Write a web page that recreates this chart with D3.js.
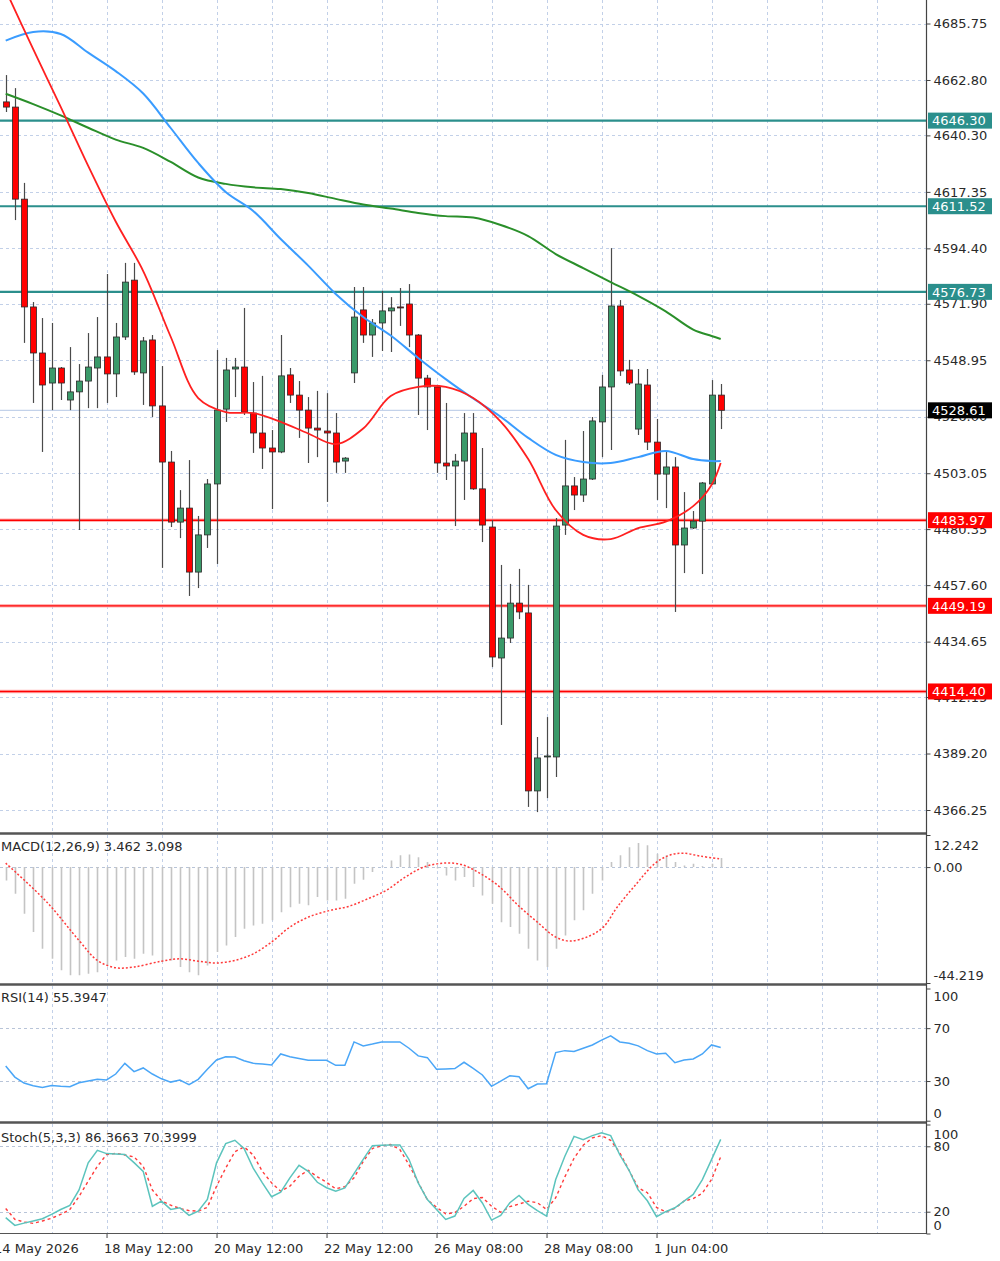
<!DOCTYPE html>
<html>
<head>
<meta charset="utf-8">
<script src="https://cdn.jsdelivr.net/npm/d3@7"></script>
<style>
  body { margin: 0; background: #fff; }
  svg { display: block; font-family: "DejaVu Sans", sans-serif; }
</style>
</head>
<body>
<div id="chart"></div>
<script>
var width = 1000, height = 1261;
var axisX = 926.5;

// 4h candles
var openP  = [4653.9,4651.8,4614.4,4570.6,4551.9,4539.7,4545.8,4532.8,4536.1,4540.5,4545.8,4550.3,4543.4,4558.4,4581.5,4543.8,4557.2,4530.4,4507.6,4483.2,
              4488.9,4462.9,4478.0,4498.7,4529.1,4545.4,4546.2,4527.5,4519.4,4513.3,4511.7,4543.0,4534.8,4528.7,4521.4,4520.2,4519.4,4508.0,4543.8,4569.4,
              4559.2,4564.1,4569.0,4570.6,4571.8,4559.2,4541.7,4538.1,4507.2,4506.0,4508.0,4519.4,4496.7,4481.2,4428.0,4436.1,4450.3,4446.3,4374.0,4387.8,
              4387.8,4482.0,4497.9,4494.2,4500.7,4523.9,4538.1,4571.0,4545.0,4521.0,4538.9,4515.7,4502.7,4505.6,4473.9,4480.8,4483.6,4498.7,4534.8];
var highP  = [4664.8,4659.5,4621.0,4572.6,4566.1,4564.1,4546.2,4554.3,4547.4,4560.0,4566.5,4584.0,4564.1,4588.5,4588.5,4558.4,4559.2,4546.6,4512.1,4496.2,
              4508.4,4485.7,4500.7,4553.1,4549.9,4549.9,4570.2,4540.1,4542.6,4520.6,4559.2,4545.8,4540.5,4534.0,4536.5,4535.6,4527.5,4509.6,4578.7,4578.7,
              4565.7,4577.1,4574.6,4578.3,4579.9,4559.6,4543.0,4538.5,4531.6,4510.9,4527.5,4527.5,4513.3,4484.0,4465.8,4458.1,4464.2,4457.7,4395.9,4404.0,
              4484.9,4516.6,4501.5,4520.2,4525.9,4543.0,4594.5,4573.4,4549.1,4545.4,4545.4,4525.1,4511.7,4509.6,4495.4,4487.7,4499.5,4540.9,4539.3];
var lowP   = [4649.8,4605.9,4556.0,4531.6,4511.7,4528.7,4532.8,4528.7,4480.0,4529.5,4529.5,4531.6,4534.0,4557.2,4543.0,4530.8,4525.9,4464.6,4481.2,4476.7,
              4453.2,4456.4,4472.7,4466.2,4523.9,4534.0,4526.7,4511.3,4504.8,4488.5,4511.2,4531.6,4517.4,4507.2,4509.6,4491.4,4503.2,4503.2,4539.7,4556.0,
              4550.3,4552.7,4552.3,4562.9,4554.3,4526.7,4520.6,4503.2,4500.3,4481.6,4492.2,4496.3,4475.1,4424.3,4400.8,4434.1,4443.8,4367.5,4365.4,4371.1,
              4379.7,4478.0,4488.1,4491.4,4500.3,4509.6,4512.5,4542.6,4538.9,4518.6,4512.5,4492.2,4488.9,4446.7,4462.5,4480.4,4462.1,4498.3,4521.0];
var closeP = [4651.8,4614.4,4570.6,4551.9,4538.9,4545.8,4539.7,4536.1,4540.5,4546.2,4550.3,4543.4,4558.4,4580.7,4544.2,4556.8,4530.4,4507.6,4483.2,4488.9,
              4462.9,4478.0,4498.7,4528.7,4545.0,4546.2,4527.9,4519.4,4513.3,4511.7,4542.6,4534.8,4528.7,4521.4,4520.6,4519.4,4507.6,4509.2,4566.5,4559.2,
              4564.1,4569.0,4570.2,4570.4,4559.2,4541.7,4538.1,4507.2,4506.0,4508.0,4519.4,4496.7,4482.0,4428.4,4436.1,4450.3,4446.7,4374.0,4387.4,4388.2,
              4481.6,4497.9,4494.2,4500.7,4524.3,4538.1,4571.0,4544.6,4539.7,4539.3,4515.7,4502.7,4505.6,4473.9,4480.8,4483.6,4499.1,4534.8,4528.61];

// moving averages, sampled at these candle indices
var maIdx   = [0,3,6,9,12,15,18,21,24,27,30,33,36,39,42,45,48,51,54,57,60,63,66,69,72,75,77,78];
var redMA   = [4699.3,4675.3,4651.9,4627.9,4605.3,4585.2,4558.5,4533.6,4527.9,4527.5,4523.9,4519.2,4514.9,4521.2,
               4534.4,4538.1,4538.1,4533.6,4524.0,4508.8,4488.1,4478.0,4476.3,4480.8,4483.4,4489.7,4498.3,4507.2];
var blueMA  = [4678.8,4682.3,4681.5,4673.9,4666.4,4657.3,4643.3,4629.1,4617.3,4609.6,4598.2,4587.4,4575.9,4566.5,
               4559.0,4549.9,4541.3,4533.4,4526.0,4517.4,4510.5,4507.6,4507.2,4509.6,4512.1,4508.8,4508.0,4508.0];
var greenMA = [4657.2,4653.0,4648.4,4643.4,4638.6,4635.2,4629.5,4623.2,4620.6,4619.2,4618.5,4616.9,4614.5,4612.2,
               4610.6,4608.8,4607.5,4606.9,4603.9,4599.4,4592.1,4586.4,4580.7,4575.1,4568.8,4561.4,4558.8,4557.6];

var resistLevels = [4646.30, 4611.52, 4576.73];
var supportLevels = [4483.97, 4449.19, 4414.40];
var lastPrice = 4528.61;

var priceTicks = [4685.75,4662.80,4640.30,4617.35,4594.40,4571.90,4548.95,4526.00,4503.05,4480.35,4457.60,4434.65,4412.15,4389.20,4366.25];

// MACD histogram (one per candle) and the dotted signal line
var macdHist = [-5.1,-10.2,-17.8,-24.8,-31.2,-35.0,-39.4,-41.3,-41.3,-40.7,-40.1,-37.5,-35.6,-34.3,-35.0,-33.1,-33.7,-36.2,-35.6,-38.1,
                -40.1,-41.3,-37.5,-32.4,-29.9,-26.7,-23.5,-22.3,-21.6,-20.3,-17.2,-15.3,-14.0,-14.6,-11.4,-12.7,-12.7,-12.1,-6.4,-4.8,
                -1.9,0.3,2.5,4.5,4.8,3.8,1.9,-0.5,-3.2,-5.1,-3.8,-7.6,-10.8,-14.0,-21.0,-22.9,-25.4,-31.2,-35.6,-38.1,
                -31.2,-26.1,-20.3,-16.5,-10.2,-5.1,1.9,4.5,7.6,9.2,8.3,5.1,4.5,1.9,0.6,1.3,0.3,1.3,3.462];
var macdSigIdx = [0,4.5,8,10,12,14,17,19,21,23,25,27,29,31,33,35.4,37.4,39.5,41.5,43.6,45.6,47.7,49.7,51.8,53.9,55.9,58,60,61.6,63.6,65.2,66.7,68.8,70.8,72.4,73.9,75.9,78];
var macdSig = [1.5,-13.4,-28.0,-35.6,-38.4,-38.1,-35.9,-35.0,-35.9,-36.6,-35.6,-33.1,-28.6,-22.9,-19.1,-16.5,-15.0,-12.1,-8.9,-3.8,
               0,1.5,1.0,-2.5,-7.6,-14.6,-21.0,-26.7,-28.2,-26.4,-22.9,-15.3,-6.4,1.3,4.5,5.3,4.1,3.098];

var rsiVal = [41.4,33.0,28.5,26.5,25.2,26.7,26.0,25.7,28.7,30.0,31.3,30.8,35.3,43.4,37.1,39.9,35.3,31.7,29.2,30.8,
              27.2,31.3,38.9,45.9,48.4,48.1,45.4,43.4,42.8,42.1,50.5,48.4,47.0,45.7,45.7,45.7,41.9,41.9,59.6,56.6,
              58.0,59.6,59.6,59.6,54.8,49.0,47.7,38.9,39.2,39.4,44.2,39.6,34.6,26.0,30.0,34.0,33.3,24.2,27.7,27.9,
              51.5,53.0,52.3,54.8,57.3,61.0,64.2,59.6,58.6,56.6,53.0,50.5,51.0,43.9,45.9,46.7,50.5,57.3,55.3947];

var stochK = [14.5,7.4,9.5,11.5,13.6,17.6,22.0,25.7,40.0,64.8,76.3,73.3,73.0,72.5,65.0,57.0,25.0,29.7,22.1,23.6,
              16.6,20.5,31.2,64.8,82.5,85.5,78.0,60.0,46.5,33.7,37.9,51.1,62.6,57.1,47.0,42.0,38.8,41.9,55.0,68.0,
              80.6,81.0,81.3,81.3,67.8,46.5,31.2,22.1,12.9,16.0,32.1,39.5,28.0,12.3,16.6,28.2,34.9,26.7,21.0,16.0,
              49.5,70.9,89.1,86.1,89.8,92.3,89.8,72.0,58.0,40.0,30.0,15.4,20.0,23.6,29.7,35.8,49.5,67.8,86.3663];
var stochD = [23.0,13.0,10.5,9.3,11.5,14.0,17.5,22.0,34.0,48.0,61.7,72.4,73.5,72.0,70.3,61.7,40.0,30.0,26.0,23.0,
              21.0,20.5,24.0,43.4,60.0,75.0,79.5,72.0,57.0,46.5,38.8,43.4,52.6,58.0,52.0,47.0,41.0,43.0,51.1,66.0,
              78.0,80.5,81.6,77.0,63.0,47.0,31.0,24.0,18.0,19.1,25.0,32.0,33.0,25.1,19.5,24.6,27.0,29.7,28.2,22.1,
              32.8,52.0,69.0,81.0,87.7,89.8,85.5,74.0,58.0,42.0,37.4,24.0,19.8,23.0,29.7,32.0,37.0,49.5,70.3999];

var dateIdx = [-1, 11, 23, 35, 47, 59, 71];
var dateLabels = ["14 May 2026", "18 May 12:00", "20 May 12:00", "22 May 12:00", "26 May 08:00", "28 May 08:00", "1 Jun 04:00"];

// scales
var x = d3.scaleLinear().domain([0, 78]).range([5.7, 720.7]);
var yP = d3.scaleLinear().domain([4366.25, 4685.75]).range([810, 23.5]);
var yM = d3.scaleLinear().domain([-44.219, 12.242]).range([983, 835]);
var yR = d3.scaleLinear().domain([0, 100]).range([1120.7, 988.5]);
var yS = d3.scaleLinear().domain([0, 100]).range([1233.5, 1124.5]);

var panels = [
  {id: "p0", top: 0, bottom: 832},
  {id: "p1", top: 835, bottom: 983},
  {id: "p2", top: 986, bottom: 1121},
  {id: "p3", top: 1124, bottom: 1233}
];

var svg = d3.select("#chart").append("svg")
  .attr("width", width).attr("height", height);

var defs = svg.append("defs");
panels.forEach(function(p) {
  defs.append("clipPath").attr("id", "clip-" + p.id)
    .append("rect").attr("x", 0).attr("y", p.top).attr("width", axisX).attr("height", p.bottom - p.top);
});

var gridColor = "#c2d0e8";

// vertical grid in every panel
var gridIdx = d3.range(0, 16).map(function(k) { return 5 + 6 * k; });
panels.forEach(function(p) {
  svg.append("g").selectAll("line").data(gridIdx).enter().append("line")
    .attr("x1", function(d) { return Math.round(x(d)) + 0.5; })
    .attr("x2", function(d) { return Math.round(x(d)) + 0.5; })
    .attr("y1", p.top).attr("y2", p.bottom)
    .attr("stroke", gridColor).attr("stroke-dasharray", "3,3");
});

// horizontal grid, main panel
svg.append("g").selectAll("line").data(priceTicks).enter().append("line")
  .attr("x1", 0).attr("x2", axisX)
  .attr("y1", function(d) { return Math.round(yP(d)) + 0.5; })
  .attr("y2", function(d) { return Math.round(yP(d)) + 0.5; })
  .attr("stroke", gridColor).attr("stroke-dasharray", "3,3");

// indicator reference lines
function refLine(yy) {
  svg.append("line").attr("x1", 0).attr("x2", axisX)
    .attr("y1", Math.round(yy) + 0.5).attr("y2", Math.round(yy) + 0.5)
    .attr("stroke", "#b8c4d8").attr("stroke-dasharray", "3,3");
}
refLine(yM(0));
refLine(yR(70)); refLine(yR(30));
refLine(yS(80)); refLine(yS(20));

// ---- main panel ----
var main = svg.append("g").attr("clip-path", "url(#clip-p0)");

// bid line
main.append("line").attr("x1", 0).attr("x2", axisX)
  .attr("y1", yP(lastPrice)).attr("y2", yP(lastPrice))
  .attr("stroke", "#c3d2ea").attr("stroke-width", 1.2);

// support / resistance levels
main.selectAll(".res").data(resistLevels).enter().append("line")
  .attr("x1", 0).attr("x2", axisX)
  .attr("y1", function(d) { return yP(d); }).attr("y2", function(d) { return yP(d); })
  .attr("stroke", "#2b8f8c").attr("stroke-width", 2.2);
main.selectAll(".suph").data(supportLevels).enter().append("line")
  .attr("x1", 0).attr("x2", axisX)
  .attr("y1", function(d) { return yP(d); }).attr("y2", function(d) { return yP(d); })
  .attr("stroke", "#ffb4b4").attr("stroke-width", 3.5);
main.selectAll(".sup").data(supportLevels).enter().append("line")
  .attr("x1", 0).attr("x2", axisX)
  .attr("y1", function(d) { return yP(d); }).attr("y2", function(d) { return yP(d); })
  .attr("stroke", "#ff0000").attr("stroke-width", 1.4);

// candles
var idx = d3.range(openP.length);
main.selectAll(".wick").data(idx).enter().append("line")
  .attr("x1", function(i) { return Math.round(x(i)) + 0.5; })
  .attr("x2", function(i) { return Math.round(x(i)) + 0.5; })
  .attr("y1", function(i) { return yP(highP[i]); })
  .attr("y2", function(i) { return yP(lowP[i]); })
  .attr("stroke", "#4a4a4a").attr("stroke-width", 1.2);

main.selectAll(".body").data(idx).enter().append("rect")
  .attr("x", function(i) { return Math.round(x(i)) - 2.5; })
  .attr("width", 6)
  .attr("y", function(i) { return yP(Math.max(openP[i], closeP[i])); })
  .attr("height", function(i) { return Math.max(1, Math.abs(yP(openP[i]) - yP(closeP[i]))); })
  .attr("fill", function(i) { return closeP[i] >= openP[i] ? "#3a9a6a" : "#ff0000"; })
  .attr("stroke", "#2a2a2a").attr("stroke-width", 0.8);

// moving averages
function maLine(vals, color, w) {
  var line = d3.line()
    .x(function(d, i) { return x(maIdx[i]); })
    .y(function(d) { return yP(d); })
    .curve(d3.curveCatmullRom);
  main.append("path").datum(vals)
    .attr("d", line).attr("fill", "none")
    .attr("stroke", color).attr("stroke-width", w);
}
maLine(greenMA, "#2a8f2a", 2);
maLine(blueMA, "#3a9cff", 2);
maLine(redMA, "#ff2020", 1.8);

// ---- MACD ----
var macdG = svg.append("g").attr("clip-path", "url(#clip-p1)");
macdG.selectAll("line").data(macdHist).enter().append("line")
  .attr("x1", function(d, i) { return Math.round(x(i)) + 0.5; })
  .attr("x2", function(d, i) { return Math.round(x(i)) + 0.5; })
  .attr("y1", yM(0))
  .attr("y2", function(d) { return yM(d); })
  .attr("stroke", "#c4c4c4").attr("stroke-width", 1.6);
macdG.append("path").datum(macdSig)
  .attr("d", d3.line().x(function(d, i) { return x(macdSigIdx[i]); }).y(function(d) { return yM(d); }).curve(d3.curveCatmullRom))
  .attr("fill", "none").attr("stroke", "#ff3b3b").attr("stroke-width", 1.5).attr("stroke-dasharray", "2,2");

// ---- RSI ----
var rsiG = svg.append("g").attr("clip-path", "url(#clip-p2)");
rsiG.append("path").datum(rsiVal)
  .attr("d", d3.line().x(function(d, i) { return x(i); }).y(function(d) { return yR(d); }))
  .attr("fill", "none").attr("stroke", "#4aa6f7").attr("stroke-width", 1.5);

// ---- Stochastic ----
var stG = svg.append("g").attr("clip-path", "url(#clip-p3)");
stG.append("path").datum(stochD)
  .attr("d", d3.line().x(function(d, i) { return x(i); }).y(function(d) { return yS(d); }))
  .attr("fill", "none").attr("stroke", "#ff3b3b").attr("stroke-width", 1.4).attr("stroke-dasharray", "3,3");
stG.append("path").datum(stochK)
  .attr("d", d3.line().x(function(d, i) { return x(i); }).y(function(d) { return yS(d); }))
  .attr("fill", "none").attr("stroke", "#5cc4bd").attr("stroke-width", 1.5);

// panel separators and axis line
[833.5, 984.5, 1122.5].forEach(function(yy) {
  svg.append("line").attr("x1", 0).attr("x2", axisX).attr("y1", yy).attr("y2", yy)
    .attr("stroke", "#555").attr("stroke-width", 2.5);
});
svg.append("line").attr("x1", 0).attr("x2", axisX).attr("y1", 1233.5).attr("y2", 1233.5)
  .attr("stroke", "#555").attr("stroke-width", 1.2);
svg.append("line").attr("x1", axisX).attr("x2", axisX).attr("y1", 0).attr("y2", 1234)
  .attr("stroke", "#444").attr("stroke-width", 1.2);

// right axes
function rightAxis(scale, ticks, fmt, top, bottom) {
  var g = svg.append("g").attr("transform", "translate(" + axisX + ",0)")
    .call(d3.axisRight(scale).tickValues(ticks).tickSize(4).tickPadding(3).tickFormat(fmt));
  g.attr("font-family", "DejaVu Sans").attr("font-size", 13);
  g.select(".domain").remove();
  g.selectAll(".tick line").attr("stroke", "#444");
  g.selectAll(".tick text").attr("fill", "#2a2a2a")
    .attr("y", function(d) {
      var yy = scale(d);
      var c = Math.max(top + 10, Math.min(bottom - 8, yy));
      return c - yy;
    });
  return g;
}
// plain hyphen for negatives, as in the terminal
function macdFmt(d) {
  if (d === 0) return "0.00";
  return (d < 0 ? "-" : "") + Math.abs(d).toFixed(3);
}
rightAxis(yP, priceTicks, function(d) { return d.toFixed(2); }, 0, 832);
rightAxis(yM, [12.242, 0, -44.219], macdFmt, 835, 983);
rightAxis(yR, [100, 70, 30, 0], d3.format("d"), 986, 1121);
rightAxis(yS, [100, 80, 20, 0], d3.format("d"), 1124, 1233);

// price labels on the axis
function priceTag(v, bg) {
  var yy = yP(v);
  svg.append("rect").attr("x", 928).attr("y", yy - 8).attr("width", 64).attr("height", 16).attr("fill", bg);
  svg.append("text").attr("x", 932).attr("y", yy).attr("dy", "0.36em")
    .attr("font-size", 13).attr("fill", "#fff").text(v.toFixed(2));
}
resistLevels.forEach(function(v) { priceTag(v, "#2b8f8c"); });
supportLevels.forEach(function(v) { priceTag(v, "#ff0000"); });
priceTag(lastPrice, "#000");

// time axis
var xAxisG = svg.append("g").attr("transform", "translate(0,1234)")
  .call(d3.axisBottom(x).tickValues(dateIdx).tickSize(4).tickPadding(6)
    .tickFormat(function(d, i) { return dateLabels[i]; }));
xAxisG.attr("font-family", "DejaVu Sans").attr("font-size", 13);
xAxisG.select(".domain").remove();
xAxisG.selectAll(".tick line").attr("stroke", "#444");
xAxisG.selectAll(".tick text").attr("text-anchor", "start").attr("x", -3).attr("fill", "#2a2a2a");

// indicator titles
var titles = [
  {t: "MACD(12,26,9) 3.462 3.098", y: 846},
  {t: "RSI(14) 55.3947", y: 997},
  {t: "Stoch(5,3,3) 86.3663 70.3999", y: 1137}
];
svg.selectAll(".title").data(titles).enter().append("text")
  .attr("x", 1).attr("y", function(d) { return d.y; }).attr("dy", "0.36em")
  .attr("font-size", 13).attr("fill", "#2a2a2a")
  .text(function(d) { return d.t; });
</script>
</body>
</html>
